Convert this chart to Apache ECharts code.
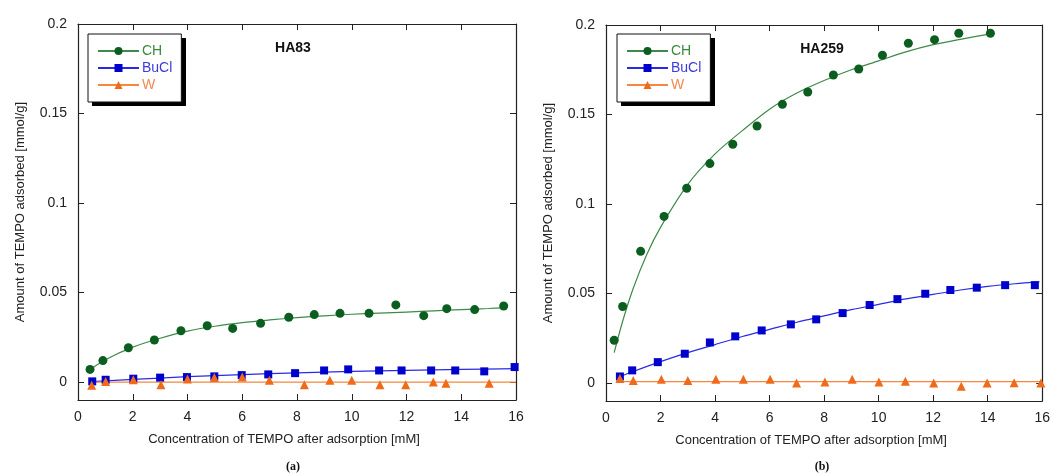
<!DOCTYPE html>
<html>
<head>
<meta charset="utf-8">
<title>TEMPO adsorption</title>
<script src="https://cdn.jsdelivr.net/npm/echarts@6/dist/echarts.min.js"></script>
</head>
<body style="margin:0;padding:0;background:#fff">
<div id="main" style="width:1053px;height:475px;"></div>
<script type="text/javascript">
var chart = echarts.init(document.getElementById('main'));

// ---- data ----
// (a) HA83
var a_ch_x = [0.44, 0.91, 1.84, 2.79, 3.76, 4.72, 5.65, 6.67, 7.70, 8.63, 9.57, 10.63, 11.61, 12.63, 13.47, 14.49, 15.55];
var a_ch_y = [0.0071, 0.0120, 0.0192, 0.0235, 0.0287, 0.0315, 0.0300, 0.0328, 0.0362, 0.0377, 0.0384, 0.0384, 0.0431, 0.0371, 0.0410, 0.0405, 0.0425];
var a_bu_x = [0.52, 1.01, 2.02, 3.0, 3.98, 4.98, 5.98, 6.95, 7.93, 8.99, 9.87, 11.0, 11.82, 12.9, 13.78, 14.84, 15.95];
var a_bu_y = [0.0004, 0.0013, 0.0019, 0.0025, 0.0028, 0.0032, 0.0039, 0.0043, 0.0050, 0.0065, 0.0071, 0.0065, 0.0065, 0.0065, 0.0065, 0.0060, 0.0084];
var a_w_x = [0.5, 1.01, 2.02, 3.03, 4.0, 4.98, 6.0, 6.99, 8.27, 9.2, 10.0, 11.03, 11.97, 12.98, 13.44, 15.02];
var a_w_y = [-0.0018, 0.0004, 0.0013, -0.0015, 0.0017, 0.0025, 0.0028, 0.0010, -0.0015, 0.0010, 0.0010, -0.0015, -0.0015, 0.0000, -0.0006, -0.0006];
// fitted curves (a)
var a_chFit_x = [0.44, 1, 2, 3, 4, 5, 6, 7, 8, 9, 10, 11, 12, 13, 14, 15, 15.55];
var a_chFit_y = [0.0070, 0.0125, 0.0195, 0.0245, 0.0285, 0.0312, 0.0332, 0.0347, 0.0360, 0.0370, 0.0379, 0.0385, 0.0391, 0.0398, 0.0405, 0.0411, 0.0415];
var a_buFit_x = [0.5, 2, 4, 6, 8, 10, 12, 14, 16];
var a_buFit_y = [0.0003, 0.0015, 0.0030, 0.0042, 0.0052, 0.0060, 0.0066, 0.0071, 0.0075];
var a_wFit_x = [0.5, 16];
var a_wFit_y = [0.0, 0.0];

// (b) HA259
var b_ch_x = [0.30, 0.61, 1.27, 2.13, 2.96, 3.81, 4.65, 5.54, 6.47, 7.40, 8.34, 9.27, 10.14, 11.09, 12.05, 12.94, 14.1];
var b_ch_y = [0.0239, 0.0428, 0.0736, 0.0931, 0.1088, 0.1226, 0.1334, 0.1436, 0.1557, 0.1626, 0.1721, 0.1754, 0.1831, 0.1898, 0.1918, 0.1954, 0.1954];
var b_bu_x = [0.51, 0.96, 1.90, 2.89, 3.81, 4.74, 5.71, 6.78, 7.71, 8.68, 9.67, 10.69, 11.71, 12.63, 13.60, 14.64, 15.73];
var b_bu_y = [0.0037, 0.0071, 0.0117, 0.0164, 0.0227, 0.0261, 0.0294, 0.0328, 0.0356, 0.0391, 0.0436, 0.0469, 0.0499, 0.0520, 0.0533, 0.0547, 0.0547];
var b_w_x = [0.51, 1.0, 2.03, 3.0, 4.03, 5.04, 6.02, 6.99, 8.03, 9.03, 10.01, 10.98, 12.02, 13.03, 13.98, 14.97, 15.95];
var b_w_y = [0.0025, 0.0015, 0.0022, 0.0015, 0.0022, 0.0022, 0.0021, 0.0000, 0.0006, 0.0022, 0.0006, 0.0011, 0.0000, -0.0017, 0.0000, 0.0002, 0.0000];
// fitted curves (b)
var b_chFit_x = [0.3, 0.6, 1.0, 1.5, 2.0, 3.0, 4.0, 5.0, 6.0, 7.0, 8.0, 9.0, 10.0, 11.0, 12.0, 13.0, 14.1];
var b_chFit_y = [0.017, 0.034, 0.053, 0.072, 0.087, 0.111, 0.128, 0.141, 0.153, 0.162, 0.169, 0.175, 0.180, 0.185, 0.189, 0.192, 0.195];
var b_buFit_x = [0.5, 1, 2, 3, 4, 5, 6, 7, 8, 9, 10, 11, 12, 13, 14, 15, 15.9];
var b_buFit_y = [0.0035, 0.0065, 0.012, 0.017, 0.0215, 0.026, 0.030, 0.034, 0.0375, 0.041, 0.044, 0.047, 0.0495, 0.052, 0.054, 0.0555, 0.0565];
var b_wFit_x = [0.5, 16];
var b_wFit_y = [0.0008, 0.0008];

var yTicks = [0, 0.05, 0.1, 0.15, 0.2];
var xTitle = 'Concentration of TEMPO after adsorption [mM]';
var yTitle = 'Amount of TEMPO adsorbed [mmol/g]';
var names = ['CH', 'BuCl', 'W'];

var colPt = {CH: '#0b5e1f', BuCl: '#0000cc', W: '#f06a1a'};
var colLn = {CH: '#3d8a4a', BuCl: '#2a2ae6', W: '#f5873e'};
var colTx = {CH: '#3a8a3a', BuCl: '#3b3bdc', W: '#f08a50'};
var sym = {CH: 'circle', BuCl: 'rect', W: 'triangle'};
var symSize = {CH: 9, BuCl: 8, W: 9};

function pairs(xs, ys) {
    return xs.map(function (x, i) { return [x, ys[i]]; });
}

var font = 'Liberation Sans';

function xAx(grid, main) {
    return {
        type: 'value', gridIndex: grid, min: 0, max: 16, interval: 2,
        position: main ? 'bottom' : 'top',
        axisLine: {show: true, onZero: false, lineStyle: {color: '#222', width: 1.2}},
        axisTick: {show: true, inside: true, length: 6, lineStyle: {color: '#222'}},
        axisLabel: {show: main, color: '#222', fontSize: 14, fontFamily: font, margin: 10},
        splitLine: {show: false},
        name: main ? xTitle : '', nameLocation: 'middle', nameGap: 33,
        nameTextStyle: {color: '#222', fontSize: 13, fontFamily: font, padding: [0, 26, 0, 0]}
    };
}

function yAx(grid, main) {
    return {
        type: 'value', gridIndex: grid, min: -0.01, max: 0.2,
        position: main ? 'left' : 'right',
        axisLine: {show: true, onZero: false, lineStyle: {color: '#222', width: 1.2}},
        axisTick: {show: true, inside: true, length: 6, customValues: yTicks, lineStyle: {color: '#222'}},
        axisLabel: {show: main, customValues: yTicks, color: '#222', fontSize: 14, fontFamily: font, margin: 11},
        splitLine: {show: false},
        name: main ? yTitle : '', nameLocation: 'middle', nameGap: 51, nameRotate: 90,
        nameTextStyle: {color: '#222', fontSize: 13, fontFamily: font}
    };
}

var fits = {
    0: {CH: [a_chFit_x, a_chFit_y], BuCl: [a_buFit_x, a_buFit_y], W: [a_wFit_x, a_wFit_y]},
    1: {CH: [b_chFit_x, b_chFit_y], BuCl: [b_buFit_x, b_buFit_y], W: [b_wFit_x, b_wFit_y]}
};
var pts = {
    0: {CH: [a_ch_x, a_ch_y], BuCl: [a_bu_x, a_bu_y], W: [a_w_x, a_w_y]},
    1: {CH: [b_ch_x, b_ch_y], BuCl: [b_bu_x, b_bu_y], W: [b_w_x, b_w_y]}
};

var series = [];
[0, 1].forEach(function (g) {
    names.forEach(function (n) {
        // fit line carries the legend entry
        series.push({
            name: n, type: 'line', xAxisIndex: g * 2, yAxisIndex: g * 2,
            data: pairs(fits[g][n][0], fits[g][n][1]),
            smooth: 0.3, showSymbol: false, symbol: sym[n],
            itemStyle: {color: colPt[n]},
            lineStyle: {color: colLn[n], width: 1.2},
            silent: true, z: 2
        });
        series.push({
            name: n + ' data', type: 'scatter', xAxisIndex: g * 2, yAxisIndex: g * 2,
            data: pairs(pts[g][n][0], pts[g][n][1]),
            symbol: sym[n], symbolSize: symSize[n],
            itemStyle: {color: colPt[n], opacity: 1},
            z: 3
        });
    });
});

function legend(left) {
    return {
        left: left, top: 34, orient: 'vertical',
        data: names.map(function (n) { return {name: n, textStyle: {color: colTx[n]}}; }),
        itemWidth: 41, itemHeight: 10, itemGap: 3,
        padding: [10, 9, 10, 9],
        textStyle: {fontSize: 14, fontFamily: font, padding: [0, 0, 0, -2]},
        backgroundColor: '#fff', borderColor: '#111', borderWidth: 1,
        selectedMode: false, z: 10
    };
}

// drop shadow boxes behind the legends
function shadowBox(x) {
    return {type: 'rect', z: 5, shape: {x: x + 4, y: 38, width: 94, height: 68}, style: {fill: '#000'}};
}

option = {
    backgroundColor: '#fff',
    animation: false,
    grid: [
        {left: 78, top: 24, width: 438, height: 376},
        {left: 606, top: 25, width: 438, height: 376}
    ],
    xAxis: [xAx(0, true), xAx(0, false), xAx(1, true), xAx(1, false)],
    yAxis: [yAx(0, true), yAx(0, false), yAx(1, true), yAx(1, false)],
    legend: [legend(88), legend(617)],
    graphic: [
        shadowBox(88), shadowBox(617),
        {type: 'text', x: 293, y: 48, style: {text: 'HA83', font: 'bold 14px "Liberation Sans"', fill: '#111', textAlign: 'center', textVerticalAlign: 'middle'}},
        {type: 'text', x: 822, y: 49, style: {text: 'HA259', font: 'bold 14px "Liberation Sans"', fill: '#111', textAlign: 'center', textVerticalAlign: 'middle'}},
        {type: 'text', x: 293, y: 467, style: {text: '(a)', font: 'bold 12px "Liberation Serif"', fill: '#111', textAlign: 'center', textVerticalAlign: 'middle'}},
        {type: 'text', x: 822, y: 467, style: {text: '(b)', font: 'bold 12px "Liberation Serif"', fill: '#111', textAlign: 'center', textVerticalAlign: 'middle'}}
    ],
    series: series
};

chart.setOption(option);
</script>
</body>
</html>
